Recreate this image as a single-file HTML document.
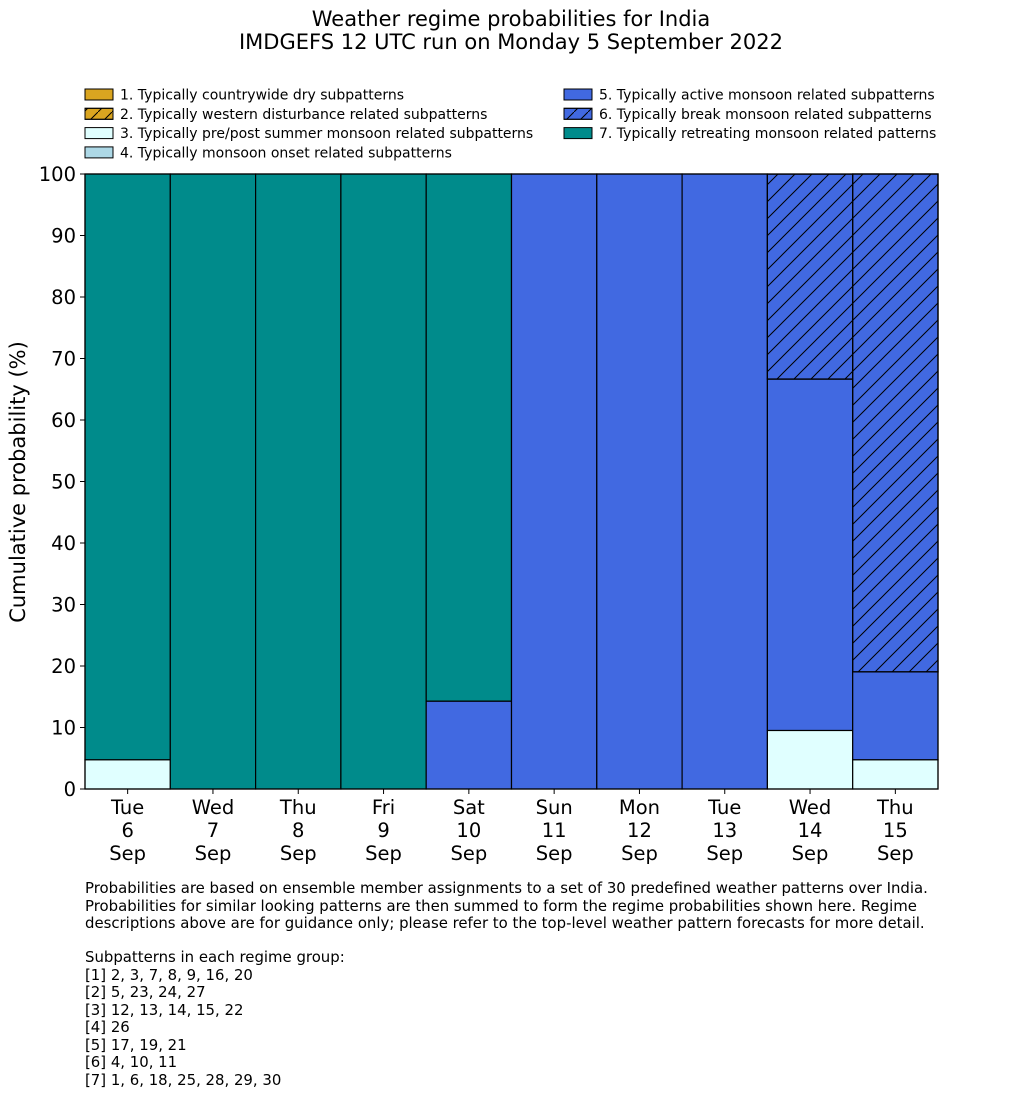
<!DOCTYPE html>
<html><head><meta charset="utf-8"><style>
body{margin:0;background:#fff;font-family:"DejaVu Sans","Liberation Sans",sans-serif}
</style></head><body>
<svg id="svg" width="1033" height="1114" xmlns="http://www.w3.org/2000/svg" style="font-family:'DejaVu Sans','Liberation Sans',sans-serif;display:block">
<defs>
<pattern id="hatch" patternUnits="userSpaceOnUse" width="17" height="17">
<path d="M-2,19 L19,-2 M-2,2 L2,-2 M15,19 L19,15" stroke="#000" stroke-width="1"/>
</pattern>
<pattern id="hatchL" patternUnits="userSpaceOnUse" width="14" height="14">
<path d="M0,14 L14,0" stroke="#000" stroke-width="1"/>
</pattern>
</defs>
<text x="511" y="26" text-anchor="middle" font-size="21">Weather regime probabilities for India</text>
<text x="511" y="49" text-anchor="middle" font-size="21">IMDGEFS 12 UTC run on Monday 5 September 2022</text>
<g id="legend" font-size="14"></g>
<g id="bars"></g>
<g id="axes"></g>
<text transform="translate(25,482) rotate(-90)" text-anchor="middle" font-size="21">Cumulative probability (%)</text>
<g font-size="14.9">
<text x="85" y="893">Probabilities are based on ensemble member assignments to a set of 30 predefined weather patterns over India.</text>
<text x="85" y="911">Probabilities for similar looking patterns are then summed to form the regime probabilities shown here. Regime</text>
<text x="85" y="928">descriptions above are for guidance only; please refer to the top-level weather pattern forecasts for more detail.</text>
<text x="85" y="962">Subpatterns in each regime group:</text>
<text x="85" y="980">[1] 2, 3, 7, 8, 9, 16, 20</text>
<text x="85" y="997">[2] 5, 23, 24, 27</text>
<text x="85" y="1015">[3] 12, 13, 14, 15, 22</text>
<text x="85" y="1032">[4] 26</text>
<text x="85" y="1050">[5] 17, 19, 21</text>
<text x="85" y="1067">[6] 4, 10, 11</text>
<text x="85" y="1085">[7] 1, 6, 18, 25, 28, 29, 30</text>
</g>
</svg>
<script>
const days=["Tue","Wed","Thu","Fri","Sat","Sun","Mon","Tue","Wed","Thu"];
const dates=["6","7","8","9","10","11","12","13","14","15"];
const r1=[0,0,0,0,0,0,0,0,0,0];
const r2=[0,0,0,0,0,0,0,0,0,0];
const r3=[4.76,0,0,0,0,0,0,0,9.52,4.76];
const r4=[0,0,0,0,0,0,0,0,0,0];
const r5=[0,0,0,0,14.29,100,100,100,57.14,14.29];
const r6=[0,0,0,0,0,0,0,0,33.33,80.95];
const r7=[95.24,100,100,100,85.71,0,0,0,0,0];
const yTicks=[0,10,20,30,40,50,60,70,80,90,100];
const legendLabels=["1. Typically countrywide dry subpatterns","2. Typically western disturbance related subpatterns","3. Typically pre/post summer monsoon related subpatterns","4. Typically monsoon onset related subpatterns","5. Typically active monsoon related subpatterns","6. Typically break monsoon related subpatterns","7. Typically retreating monsoon related patterns"];
const colors=["#DAA520","#DAA520","#E0FFFF","#ADD8E6","#4169E1","#4169E1","#008B8B"];
const hatched=[false,true,false,false,false,true,false];
const series=[r1,r2,r3,r4,r5,r6,r7];
const NS="http://www.w3.org/2000/svg";
const X0=85,X1=938,Y0=789,Y1=174;
const bw=(X1-X0)/days.length;
const xs=i=>X0+i*bw;
const ys=v=>Y0-(Y0-Y1)*v/100;
function mk(t,a,p){const e=document.createElementNS(NS,t);for(const k in a)e.setAttribute(k,a[k]);p.appendChild(e);return e;}
const bars=document.getElementById('bars');
for(let i=0;i<days.length;i++){
  let cum=0;
  for(let s=0;s<series.length;s++){
    const v=series[s][i]; if(v<=0) continue;
    const y0=ys(cum),y1=ys(cum+v);
    const r=mk('rect',{x:xs(i),y:y1,width:bw,height:y0-y1,fill:colors[s],stroke:'#000','stroke-width':1.2},bars);
    
    
    if(hatched[s]){const h=mk('rect',{x:xs(i),y:y1,width:bw,height:y0-y1,fill:'url(#hatch)',stroke:'#000','stroke-width':1.2},bars);
      
      }
    cum+=v;
  }
}
const ax=document.getElementById('axes');
mk('rect',{x:X0,y:Y1,width:X1-X0,height:Y0-Y1,fill:'none',stroke:'#000','stroke-width':1.2},ax);
yTicks.forEach(t=>{const y=ys(t);
  mk('line',{x1:X0-5,x2:X0,y1:y,y2:y,stroke:'#000'},ax);
  const tx=mk('text',{x:X0-9,y:y+7,'text-anchor':'end','font-size':19.5},ax);tx.textContent=t;
  
  });
days.forEach((d,i)=>{const cx=xs(i)+bw/2;
  mk('line',{x1:cx,x2:cx,y1:Y0,y2:Y0+5,stroke:'#000'},ax);
  [d,dates[i],"Sep"].forEach((s,j)=>{const tx=mk('text',{x:cx,y:814+j*23,'text-anchor':'middle','font-size':19.5},ax);tx.textContent=s;
    
    });});
const lg=document.getElementById('legend');
legendLabels.forEach((l,k)=>{const col=k<4?0:1,row=k<4?k:k-4;
  const x=col?564:85,y=89+row*19.3;
  const g=mk('g',{},lg);
  
  
  mk('rect',{x:x,y:y,width:28,height:11,fill:colors[k],stroke:'#000','stroke-width':1},g);
  if(hatched[k])mk('rect',{x:x,y:y,width:28,height:11,fill:'url(#hatchL)',stroke:'#000','stroke-width':1},g);
  const t=mk('text',{x:x+35,y:y+10.5},g);t.textContent=l;});
</script>
</body></html>
